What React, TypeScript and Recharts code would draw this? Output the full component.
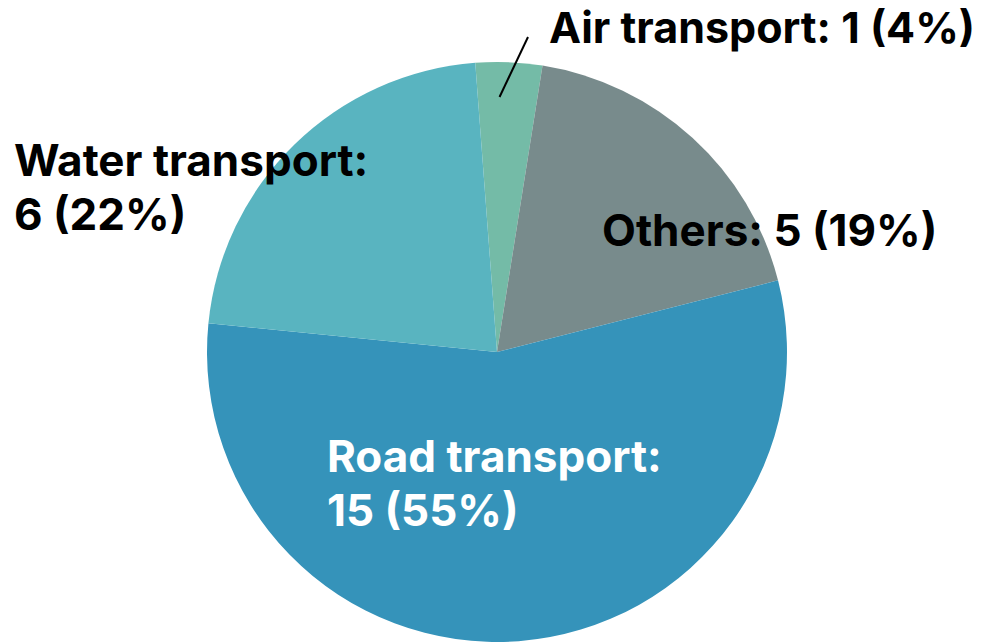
import { PieChart, Pie, Cell } from "recharts";

const names = ["Air transport", "Others", "Road transport", "Water transport"];
const values = [1, 5, 15, 6];
const percents = ["4%", "19%", "55%", "22%"];
const colors = ["#74bba7", "#788b8c", "#3593ba", "#59b4c0"];

const data = names.map((name, i) => ({ name, value: values[i] }));

// label placement relative to pie centre
const labelLayout: Record<string, { dx: number; dy: number; fill: string; split: boolean }> = {
  "Air transport": { dx: 52, dy: -309, fill: "#000", split: false },
  Others: { dx: 105, dy: -106, fill: "#000", split: false },
  "Road transport": { dx: -170, dy: 120, fill: "#fff", split: true },
  "Water transport": { dx: -483, dy: -176, fill: "#000", split: true },
};

const FONT = "Inter, 'Open Sans', sans-serif";

function renderLabel(props: any) {
  const { cx, cy, name, index, midAngle, outerRadius } = props;
  const l = labelLayout[name];
  const x = cx + l.dx;
  const y = cy + l.dy;
  const head = `${name}:`;
  const tail = `${values[index]} (${percents[index]})`;
  const common = {
    fontFamily: FONT,
    fontWeight: 700,
    fontSize: 44,
    fill: l.fill,
    textAnchor: "start" as const,
  };
  if (l.split) {
    return (
      <text key={name} x={x} y={y} {...common}>
        <tspan x={x} y={y}>{head}</tspan>
        <tspan x={x} y={y + 54}>{tail}</tspan>
      </text>
    );
  }
  if (name === "Air transport") {
    const rad = (Math.PI / 180) * midAngle;
    const r0 = outerRadius * 0.88;
    const x0 = cx + r0 * Math.cos(rad);
    const y0 = cy - r0 * Math.sin(rad);
    return (
      <g key={name}>
        <line x1={x0 - 8} y1={y0} x2={cx + 31} y2={cy - 315} stroke="#000" strokeWidth={2} />
        <text x={x} y={y} {...common} fontSize={43}>{`${head} ${tail}`}</text>
      </g>
    );
  }
  return (
    <text key={name} x={x} y={y} {...common}>{`${head} ${tail}`}</text>
  );
}

export default function App() {
  return (
    <div style={{ position: "absolute", left: 0, top: 0, background: "#fff" }}>
      <PieChart width={987} height={643} margin={{ top: 0, right: 0, bottom: 0, left: 0 }}>
        <Pie
          data={data}
          dataKey="value"
          nameKey="name"
          cx={497}
          cy={352}
          outerRadius={290}
          startAngle={94.3}
          endAngle={-265.7}
          stroke="none"
          labelLine={false}
          label={renderLabel}
          isAnimationActive={false}
        >
          {data.map((d, i) => (
            <Cell key={d.name} fill={colors[i]} />
          ))}
        </Pie>
      </PieChart>
    </div>
  );
}
